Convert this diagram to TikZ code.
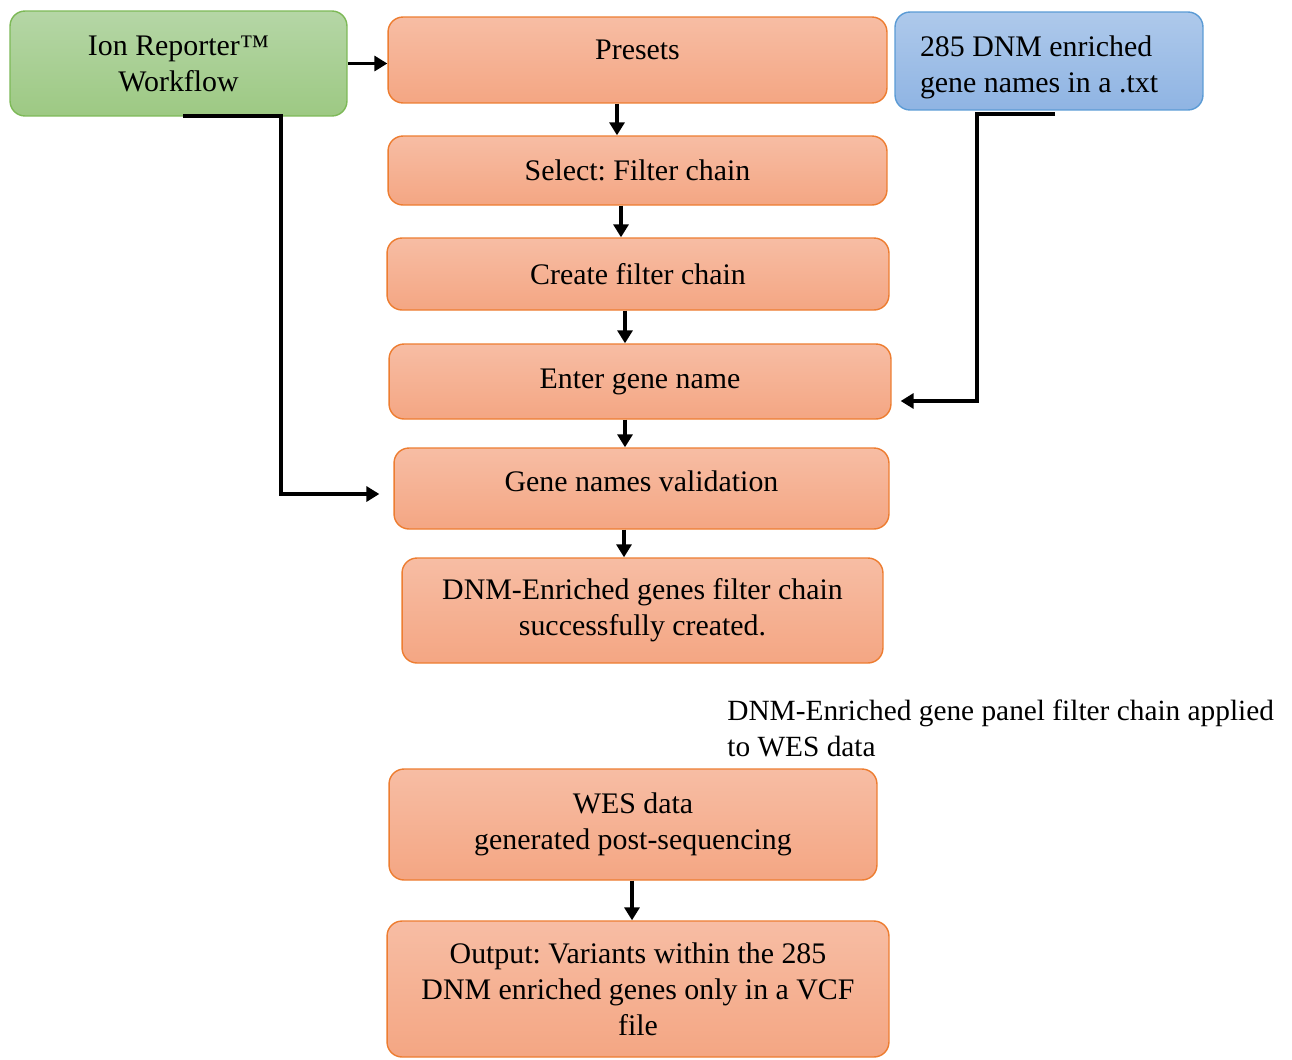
\documentclass[tikz,border=0pt]{standalone}
\usepackage{fontspec}
\setmainfont{Liberation Serif}
\frenchspacing
\usetikzlibrary{positioning, arrows.meta}

\definecolor{orangetop}{HTML}{F7BDA4}
\definecolor{orangebot}{HTML}{F4A683}
\definecolor{orangeline}{HTML}{ED7D31}
\definecolor{greentop}{HTML}{B5D6A6}
\definecolor{greenbot}{HTML}{9DC983}
\definecolor{greenline}{HTML}{7DB957}
\definecolor{bluetop}{HTML}{AEC9EB}
\definecolor{bluebot}{HTML}{8FB4E3}
\definecolor{blueline}{HTML}{5B9BD5}

\tikzset{
 box/.style={rounded corners=0.3cm, line width=0.8pt, align=flush center, inner sep=0pt,
  font=\fontsize{17}{20.5}\selectfont},
 stepbox/.style={box, draw=orangeline, top color=orangetop, bottom color=orangebot},
 sourcebox/.style={box, draw=greenline, top color=greentop, bottom color=greenbot},
 filebox/.style={box, draw=blueline, top color=bluetop, bottom color=bluebot},
 flowarrow/.style={line width=2.2pt, -{Triangle[length=0.26cm, width=0.3cm]}}
}

\begin{document}
\begin{tikzpicture}[x=0.02cm, y=-0.02cm]
 \useasboundingbox (0,0) rectangle (1292,1059);

 % top row
 \node[sourcebox, minimum width=6.74cm, minimum height=2.1cm] (ion) at (178.5,63.5) {Ion Reporter™\\Workflow};
 \node[stepbox, minimum width=9.98cm, minimum height=1.72cm] (presets) at (637.5,60) {\raisebox{0.4cm}{Presets}};
 \node[filebox, minimum width=6.16cm, minimum height=1.96cm] (txtfile) at (1049,61) {\raisebox{-0.12cm}[\height][\depth]{\parbox[c]{5.16cm}{\raggedright 285 DNM enriched\\gene names in a .txt}}};

 % filter chain steps
 \node[stepbox, minimum width=9.98cm, minimum height=1.38cm] (select) at (637.5,170.5) {Select: Filter chain};
 \node[stepbox, minimum width=10.04cm, minimum height=1.44cm] (create) at (638,274) {Create filter chain};
 \node[stepbox, minimum width=10.04cm, minimum height=1.5cm] (enter) at (640,381.5) {\raisebox{0.12cm}{Enter gene name}};
 \node[stepbox, minimum width=9.9cm, minimum height=1.62cm] (validation) at (641.5,488.5) {\raisebox{0.3cm}{Gene names validation}};
 \node[stepbox, minimum width=9.62cm, minimum height=2.1cm] (created) at (642.5,610.5) {DNM-Enriched genes filter chain\\successfully created.};

 \node[anchor=north west, align=flush left, inner sep=0pt, font=\fontsize{16.7}{21}\selectfont] (note) at (727,699) {DNM-Enriched gene panel filter chain applied\\to WES data};

 % applied to data
 \node[stepbox, minimum width=9.76cm, minimum height=2.22cm] (wes) at (633,824.5) {WES data\\generated post-sequencing};
 \node[stepbox, minimum width=10.04cm, minimum height=2.72cm] (output) at (638,989) {Output: Variants within the 285\\DNM enriched genes only in a VCF\\file};

 % connectors
 \draw[flowarrow] (ion.east) -- (ion.east -| presets.west);
 \foreach \a/\b/\dx in {presets/select/-0.41, select/create/-0.33, create/enter/-0.26, enter/validation/-0.3, validation/created/-0.35, wes/output/-0.02} {
  \draw[flowarrow] ([xshift=\dx cm]\a.south) -- ([xshift=\dx cm]\a.south |- \b.north);
 }

 \draw[flowarrow] ([xshift=0.09cm, yshift=0.02cm]ion.south) -- ++(1.96cm,0) |- ([xshift=-0.28cm, yshift=-0.11cm]validation.west);

 \draw[flowarrow] ([xshift=0.12cm, yshift=-0.06cm]txtfile.south) -- ++(-1.56cm,0) |- ([xshift=0.18cm, yshift=-0.39cm]enter.east);
\end{tikzpicture}
\end{document}
